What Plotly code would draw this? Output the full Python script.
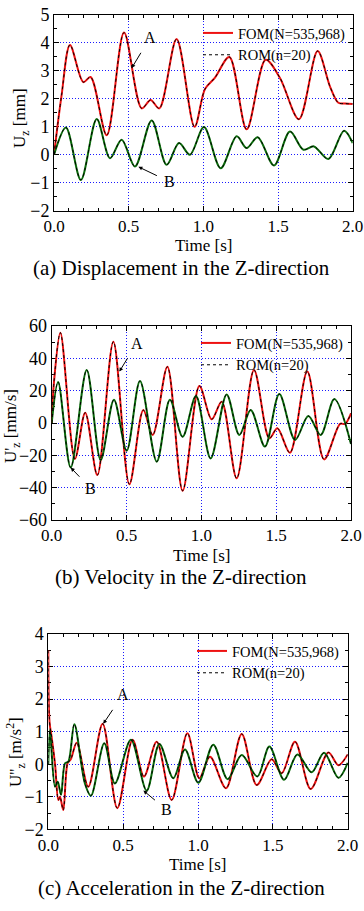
import plotly.graph_objects as go

# ---------------- data ----------------
# (a) displacement [mm]
t_disp_A = [0, 0.05, 0.107, 0.196, 0.245, 0.353, 0.469, 0.587, 0.647, 0.705, 0.821, 0.941,
            1.011, 1.078, 1.174, 1.29, 1.417, 1.513, 1.64, 1.765, 1.848, 1.904, 1.95, 2.0]
u_disp_A = [0, 2.1, 3.93, 2.6, 2.78, 0.7, 4.37, 1.66, 1.96, 1.66, 4.14, 1.0,
            2.35, 2.76, 3.5, 0.91, 3.4, 2.75, 1.27, 3.71, 2.44, 1.86, 1.83, 1.82]
t_disp_B = [0, 0.08, 0.18, 0.286, 0.375, 0.453, 0.542, 0.654, 0.754, 0.837, 0.91, 1.004,
            1.116, 1.223, 1.29, 1.364, 1.473, 1.58, 1.67, 1.74, 1.837, 1.942, 2.0]
u_disp_B = [0, 0.98, -0.9, 1.28, -0.12, 0.54, -0.42, 1.23, -0.36, 0.42, 0.0, 0.99,
            -0.48, 0.66, 0.24, 0.63, -0.38, 0.83, 0.18, 0.30, -0.15, 0.86, 0.42]

# (b) velocity [mm/s]
t_vel_A = [0, 0.015, 0.058, 0.155, 0.224, 0.305, 0.412, 0.519, 0.612, 0.675, 0.773, 0.875,
           0.987, 1.069, 1.136, 1.236, 1.352, 1.454, 1.508, 1.592, 1.708, 1.82, 1.927, 1.96, 2.0]
u_vel_A = [0, 25, 55.9, -22.2, 6.4, -32.2, 50.3, -37.9, 8.0, -7.4, 34.8, -41.9,
           22.9, 2.3, 13.2, -34.2, 32.8, -9.5, -3.3, -18.4, 31.8, -22.5, -0.5, -0.6, 6]
t_vel_B = [0, 0.043, 0.127, 0.234, 0.327, 0.416, 0.501, 0.59, 0.702, 0.79, 0.875, 0.964,
           1.062, 1.169, 1.254, 1.33, 1.425, 1.521, 1.626, 1.715, 1.797, 1.889, 2.0]
u_vel_B = [0, 25.4, -27.5, 32.8, -22.9, 14.4, -17.1, 26, -23.9, 14.4, -8.5, 16.7,
           -21.9, 17.7, -7.4, 8.0, -14.6, 17.9, -10.5, 4.3, -7.4, 14.8, -13]

# (c) acceleration [m/s^2]
t_acc_A = [0, 0.008, 0.022, 0.045, 0.067, 0.078, 0.1, 0.129, 0.15, 0.19, 0.267, 0.363,
           0.461, 0.563, 0.639, 0.724, 0.824, 0.929, 1.009, 1.08, 1.187, 1.292, 1.392,
           1.492, 1.559, 1.648, 1.753, 1.871, 1.938, 2.0]
u_acc_A = [3.5, 1.3, 0.85, 0.0, -1.1, -1.0, -1.41, 0.03, 0.15, 0.66, -0.69, 1.24,
           -1.35, 0.75, -0.38, 0.69, -1.1, 0.95, -0.43, 0.23, -0.74, 0.93, -0.64,
           0.15, -0.28, 0.69, -0.76, 0.36, -0.03, 0.3]
t_acc_B = [0, 0.011, 0.045, 0.063, 0.085, 0.112, 0.134, 0.174, 0.245, 0.285, 0.374, 0.445,
           0.552, 0.657, 0.742, 0.835, 0.913, 1.002, 1.102, 1.198, 1.292, 1.396, 1.477,
           1.575, 1.664, 1.759, 1.842, 1.938, 2.0]
u_acc_B = [0, 1.05, -0.69, -0.54, -0.94, 0.03, 0.08, 1.23, -0.6, -0.97, 0.64, -0.59,
           0.75, -0.81, 0.62, -0.43, 0.45, -0.57, 0.6, -0.46, 0.28, -0.38, 0.54,
           -0.48, 0.3, -0.25, 0.35, -0.42, 0.04]

x_ticks = [0.0, 0.5, 1.0, 1.5, 2.0]
legend_names = ["FOM(N=535,968)", "ROM(n=20)"]
captions = ["(a) Displacement in the Z-direction",
            "(b) Velocity in the Z-direction",
            "(c) Acceleration in the Z-direction"]
y_titles = ["U<sub>z</sub> [mm]", "U'<sub>z</sub> [mm/s]", "U''<sub>z</sub> [m/s<sup>2</sup>]"]

# ---------------- layout geometry (pixels) ----------------
W, H = 364, 911
panels = [
    dict(x0=54, x1=352.7, top=15, bot=210.7, yr=[-2, 5], dt=1, minor=0.5,
         leg=(198, 17), ytx=21, yty=118, tt=245, cap=268),
    dict(x0=51.7, x1=351, top=326, bot=520, yr=[-60, 60], dt=20, minor=10,
         leg=(196, 327), ytx=12, yty=426, tt=555, cap=577),
    dict(x0=48.3, x1=347.7, top=634, bot=829.3, yr=[-2, 4], dt=1, minor=0.5,
         leg=(192, 635), ytx=15, yty=752, tt=864, cap=888),
]
data = [(t_disp_A, u_disp_A, t_disp_B, u_disp_B),
        (t_vel_A, u_vel_A, t_vel_B, u_vel_B),
        (t_acc_A, u_acc_A, t_acc_B, u_acc_B)]

FONT = "Liberation Serif"
RED = "#ee1111"
GREEN = "#0b6b0b"
GRID = "#1a1aff"

fig = go.Figure()
layout = dict(width=W, height=H, margin=dict(l=0, r=0, t=0, b=0, autoexpand=False),
              paper_bgcolor="white", plot_bgcolor="white",
              font=dict(family=FONT, size=16, color="black"))
annotations = []

def px(x):
    return x / W

def py(y):
    return 1 - y / H

for i, (p, (ta, ua, tb, ub)) in enumerate(zip(panels, data)):
    n = "" if i == 0 else str(i + 1)
    xa, ya = "x" + n, "y" + n
    leg = "legend" + n
    sm = 0.9
    fig.add_trace(go.Scatter(x=ta, y=ua, mode="lines", name=legend_names[0],
                             line=dict(color=RED, width=2, shape="spline", smoothing=sm),
                             xaxis=xa, yaxis=ya, legend=leg, showlegend=True))
    fig.add_trace(go.Scatter(x=tb, y=ub, mode="lines", name="B",
                             line=dict(color=GREEN, width=2, shape="spline", smoothing=sm),
                             xaxis=xa, yaxis=ya, legend=leg, showlegend=False))
    fig.add_trace(go.Scatter(x=ta, y=ua, mode="lines", name=legend_names[1],
                             line=dict(color="black", width=1, dash="dot", shape="spline", smoothing=sm),
                             xaxis=xa, yaxis=ya, legend=leg, showlegend=True))
    fig.add_trace(go.Scatter(x=tb, y=ub, mode="lines", name=legend_names[1],
                             line=dict(color="black", width=1, dash="dot", shape="spline", smoothing=sm),
                             xaxis=xa, yaxis=ya, legend=leg, showlegend=False))

    common = dict(showline=True, linecolor="black", linewidth=1, mirror="ticks",
                  ticks="inside", ticklen=5, tickcolor="black", zeroline=False,
                  showgrid=True, gridcolor=GRID, griddash="1px,2px", gridwidth=1,
                  automargin=False, layer="below traces")
    layout["xaxis" + n] = dict(common, domain=[px(p["x0"]), px(p["x1"])], anchor=ya,
                               range=[0, 2], tickvals=x_ticks, tickformat=".1f",
                               tickfont=dict(family=FONT, size=17, color="black"),
                               minor=dict(dtick=0.1, ticks="inside", ticklen=3,
                                          tickcolor="black", showgrid=False))
    layout["yaxis" + n] = dict(common, domain=[py(p["bot"]), py(p["top"])], anchor=xa,
                               range=p["yr"], dtick=p["dt"], tick0=0,
                               tickfont=dict(family=FONT, size=18, color="black"),
                               minor=dict(dtick=p["minor"], ticks="inside", ticklen=3,
                                          tickcolor="black", showgrid=False))
    layout[leg] = dict(x=px(p["leg"][0]), y=py(p["leg"][1]), xanchor="left", yanchor="top",
                       bgcolor="rgba(0,0,0,0)", borderwidth=0,
                       font=dict(family=FONT, size=14.5, color="black"),
                       tracegroupgap=0, itemwidth=30)
    # axis titles and caption
    annotations.append(dict(xref="paper", yref="paper", x=px(p["ytx"]), y=py(p["yty"]),
                            text=y_titles[i], textangle=-90, showarrow=False,
                            xanchor="center", yanchor="middle",
                            font=dict(family=FONT, size=17)))
    annotations.append(dict(xref="paper", yref="paper", x=px((p["x0"] + p["x1"]) / 2),
                            y=py(p["tt"]), text="Time [s]", showarrow=False,
                            xanchor="center", yanchor="middle",
                            font=dict(family=FONT, size=17)))
    annotations.append(dict(xref="paper", yref="paper", x=px(181), y=py(p["cap"]),
                            text=captions[i], showarrow=False,
                            xanchor="center", yanchor="middle",
                            font=dict(family=FONT, size=21)))

# A / B labels with arrows (head on curve, tail at label)
labels = [
    ("x", "y", "A", 0.52, 3.1, 0.643, 4.19),
    ("x", "y", "B", 0.565, -0.43, 0.772, -0.96),
    ("x2", "y2", "A", 0.452, 31.8, 0.568, 49.3),
    ("x2", "y2", "B", 0.127, -27.6, 0.26, -40.4),
    ("x3", "y3", "A", 0.367, 1.24, 0.497, 2.13),
    ("x3", "y3", "B", 0.635, -0.81, 0.79, -1.4),
]
for xr, yr, txt, hx, hy, tx, ty in labels:
    annotations.append(dict(xref=xr, yref=yr, axref=xr, ayref=yr, x=hx, y=hy, ax=tx, ay=ty,
                            text=txt, showarrow=True, arrowhead=2, arrowsize=0.8,
                            arrowwidth=1, arrowcolor="black", standoff=0, startstandoff=6,
                            font=dict(family=FONT, size=16, color="black")))

layout["annotations"] = annotations
fig.update_layout(**layout)
fig.write_html("out.html", config={"displayModeBar": False},
               post_script="document.body.style.margin='0';document.body.style.padding='0';"
                           "document.body.style.overflow='hidden';")
